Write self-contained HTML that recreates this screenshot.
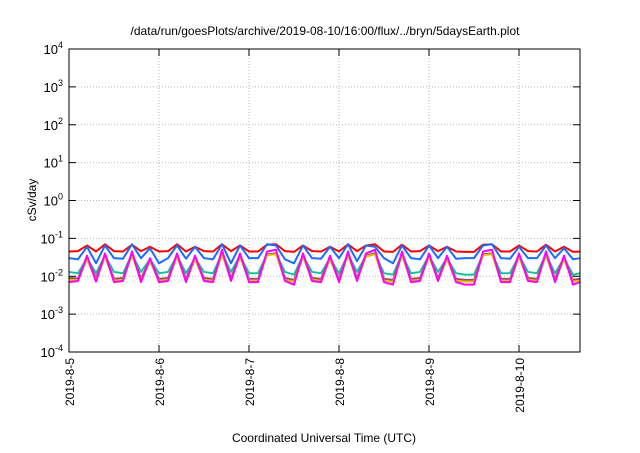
<!DOCTYPE html>
<html><head><meta charset="utf-8"><style>
body{margin:0;background:#fff;font-family:"Liberation Sans",sans-serif}
svg text{font-family:"Liberation Sans",sans-serif;fill:#000}
</style></head><body>
<svg id="c" width="640" height="448">
<text x="325" y="35" font-size="12" text-anchor="middle">/data/run/goesPlots/archive/2019-08-10/16:00/flux/../bryn/5daysEarth.plot</text>
<text x="324" y="442" font-size="12" text-anchor="middle">Coordinated Universal Time (UTC)</text>
<text transform="translate(36,200) rotate(-90)" font-size="12" text-anchor="middle">cSv/day</text>
<g id="grid"></g><g id="series"></g><g id="axes"></g>
</svg>
<script>
const dayLabels=["2019-8-5","2019-8-6","2019-8-7","2019-8-8","2019-8-9","2019-8-10"];
const yExps=[-4,-3,-2,-1,0,1,2,3,4];
const red=[.045,.046,.065,.045,.07,.046,.045,.068,.046,.06,.045,.046,.07,.045,.06,.046,.045,.07,.046,.065,.045,.045,.068,.07,.046,.044,.065,.046,.045,.06,.045,.07,.046,.065,.07,.045,.044,.068,.045,.046,.065,.046,.06,.045,.044,.044,.068,.07,.045,.045,.065,.046,.045,.068,.045,.06,.044,.045];
const blue=[.03,.028,.06,.022,.065,.03,.029,.07,.03,.055,.022,.03,.065,.029,.06,.03,.028,.07,.022,.065,.03,.03,.07,.065,.028,.022,.065,.03,.029,.06,.03,.07,.025,.065,.06,.03,.022,.065,.03,.028,.065,.03,.06,.029,.03,.03,.065,.07,.03,.029,.06,.03,.03,.065,.03,.055,.028,.03];
const green=[.013,.012,.03,.012,.035,.013,.012,.038,.013,.028,.012,.013,.035,.012,.03,.013,.012,.04,.013,.035,.012,.012,.038,.04,.013,.011,.035,.013,.012,.03,.012,.038,.013,.035,.04,.012,.011,.038,.012,.013,.035,.013,.03,.012,.011,.011,.038,.04,.012,.012,.035,.013,.012,.038,.012,.03,.011,.012];
const brown=[.009,.0088,.03,.009,.035,.0085,.009,.038,.0088,.027,.0085,.009,.035,.0085,.03,.009,.0085,.04,.009,.035,.0085,.0085,.038,.04,.009,.008,.035,.009,.0085,.03,.0085,.038,.009,.035,.04,.0085,.008,.038,.0085,.009,.035,.009,.03,.0085,.008,.008,.038,.04,.0085,.0085,.035,.009,.0085,.038,.0085,.03,.008,.0085];
const yellow=[.008,.0078,.028,.008,.033,.0076,.008,.036,.0078,.025,.0076,.008,.033,.0076,.028,.008,.0076,.038,.008,.033,.0076,.0076,.036,.038,.008,.0072,.033,.008,.0076,.028,.0076,.036,.008,.033,.038,.0076,.0072,.036,.0076,.008,.033,.008,.028,.0076,.0072,.0072,.036,.038,.0076,.0076,.033,.008,.0076,.036,.0076,.028,.0072,.0076];
const magenta=[.007,.0075,.035,.0072,.04,.007,.0075,.045,.007,.03,.007,.0075,.04,.007,.035,.0075,.007,.05,.0075,.04,.007,.007,.045,.05,.0075,.006,.04,.0075,.007,.035,.007,.045,.0075,.04,.05,.007,.006,.045,.007,.0075,.04,.0075,.035,.007,.006,.006,.045,.05,.007,.007,.04,.0075,.007,.045,.007,.035,.006,.007];
const L=69,R=580,T=49,B=352,dayW=90;
const xs=d=>L+d*dayW;
const ys=v=>B-(Math.log10(v)+4)/8*(B-T);
const NS="http://www.w3.org/2000/svg";
function mk(t,a,p){const e=document.createElementNS(NS,t);for(const k in a)e.setAttribute(k,a[k]);p.appendChild(e);return e;}
const grid=document.getElementById('grid'),axes=document.getElementById('axes'),ser=document.getElementById('series');
yExps.forEach(e=>{const y=ys(Math.pow(10,e));
 if(e>-4&&e<4){const g=mk('line',{x1:L,x2:R,y1:y,y2:y,stroke:'#bbb','stroke-dasharray':'1,2'},grid);
 
 }
 mk('line',{x1:L,x2:L+7,y1:y,y2:y,stroke:'#000'},axes);mk('line',{x1:R-7,x2:R,y1:y,y2:y,stroke:'#000'},axes);
 const t=mk('text',{x:L-6,y:y+5,'font-size':13,'text-anchor':'end'},axes);
 
 
 t.innerHTML='10<tspan dy="-6" font-size="9">'+e+'</tspan>';});
dayLabels.forEach((s,i)=>{const x=xs(i);
 if(i>0){const g=mk('line',{x1:x,x2:x,y1:T,y2:B,stroke:'#bbb','stroke-dasharray':'1,2'},grid);
 
 }
 mk('line',{x1:x,x2:x,y1:B,y2:B-7,stroke:'#000'},axes);mk('line',{x1:x,x2:x,y1:T,y2:T+7,stroke:'#000'},axes);
 const t=mk('text',{transform:`translate(${x+5},${B+6}) rotate(-90)`,'font-size':12,'text-anchor':'end'},axes);
 
 
 t.textContent=s;});
const fr=mk('rect',{x:L,y:T,width:R-L,height:B-T,fill:'none',stroke:'#000'},axes);


[[red,'#f00','series-red'],[blue,'#1a6cff','series-blue'],[green,'#17c29a','series-green'],[brown,'#9b4a6a','series-brown'],[yellow,'#e0c000','series-yellow'],[magenta,'#ff00ff','series-magenta']].forEach(([arr,c,n])=>{
 const pts=arr.map((v,i)=>[Math.min(xs(i*0.1),R),ys(v)].join(',')).join(' ');
 const p=mk('polyline',{points:pts,fill:'none',stroke:c,'stroke-width':2,'stroke-linejoin':'round'},ser);
 
 });
</script>
</body></html>
